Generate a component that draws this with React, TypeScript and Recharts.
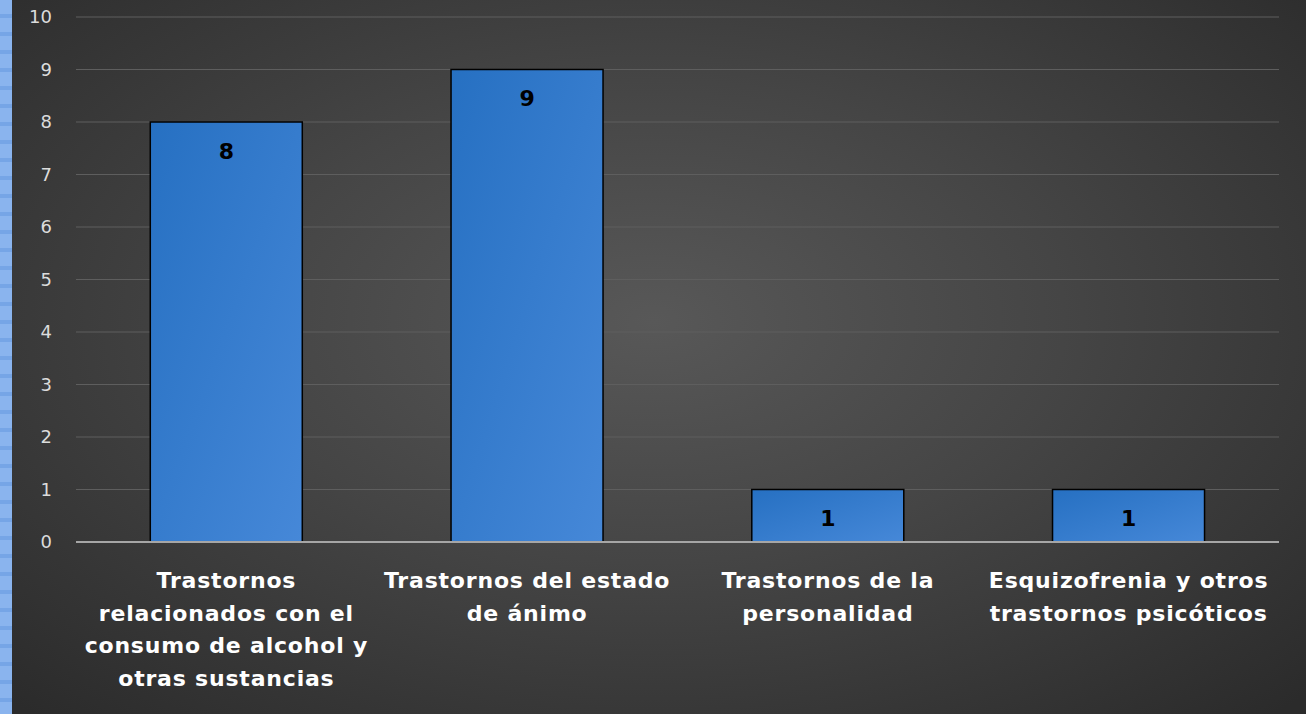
import React from 'react'
import { Bar, BarChart, CartesianGrid, LabelList, XAxis, YAxis, ReferenceLine } from 'recharts'

const categories = [
    'Trastornos\nrelacionados con el\nconsumo de alcohol y\notras sustancias',
    'Trastornos del estado\nde ánimo',
    'Trastornos de la\npersonalidad',
    'Esquizofrenia y otros\ntrastornos psicóticos',
]
const counts = [8, 9, 1, 1]
const yTicks = [0, 1, 2, 3, 4, 5, 6, 7, 8, 9, 10]

const data = categories.map((name, i) => ({ name, value: counts[i] }))

const FONT = '"DejaVu Sans", sans-serif'

function CategoryTick(props: any) {
    const { x, y, payload } = props
    const lines = String(payload.value).split('\n')
    return (
        <text x={x} y={y + 38} textAnchor="middle" fill="#ffffff" fontFamily={FONT} fontWeight="bold" fontSize={22} letterSpacing={0.8}>
            {lines.map((l, i) => (
                <tspan key={i} x={x} dy={i === 0 ? 0 : 32.5}>{l}</tspan>
            ))}
        </text>
    )
}

function App() {
    return (
        <div style={{
            position: 'absolute', left: 0, top: 0, width: 1306, height: 714, overflow: 'hidden',
            background: 'radial-gradient(ellipse 70% 75% at 50% 45%, #585858 0%, #454545 45%, #2b2b2b 100%)'
        }}>
            <div style={{
                position: 'absolute', left: 0, top: 0, width: 12, height: 714,
                background: 'repeating-linear-gradient(180deg, #8ab4ee 0px, #8ab4ee 14px, #76a5e6 14px, #76a5e6 18px)'
            }} />
            <BarChart width={1306} height={714} data={data}
                margin={{ top: 17, right: 27, bottom: 0, left: 0 }} barCategoryGap="24.7%">
                <defs>
                    <linearGradient id="barFill" x1="0" y1="0" x2="1" y2="1">
                        <stop offset="0%" stopColor="#2670c2" />
                        <stop offset="100%" stopColor="#4688d8" />
                    </linearGradient>
                </defs>
                <CartesianGrid vertical={false} stroke="#5e5e5e" strokeWidth={1} />
                <XAxis dataKey="name" height={172} tick={<CategoryTick />} tickLine={false} axisLine={false} interval={0} />
                <YAxis width={76} domain={[0, 10]} ticks={yTicks} tickLine={false} axisLine={false} tickMargin={18}
                    tick={{ fill: '#dcdcdc', fontSize: 18, fontFamily: FONT }} />
                <Bar dataKey="value" fill="url(#barFill)" stroke="#000000" strokeWidth={1.5} isAnimationActive={false}>
                    <LabelList dataKey="value" position="insideTop" offset={21}
                        style={{ fill: '#000000', fontWeight: 'bold', fontSize: 22, fontFamily: FONT }} />
                </Bar>
                <ReferenceLine y={0} stroke="#a6a6a6" strokeWidth={2} />
            </BarChart>
        </div>
    )
}

export default App
